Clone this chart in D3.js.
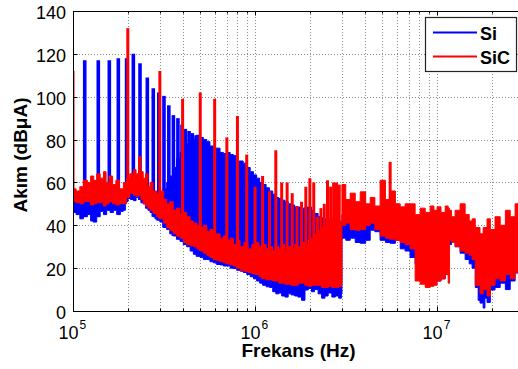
<!DOCTYPE html>
<html>
<head>
<meta charset="utf-8">
<script src="https://cdn.jsdelivr.net/npm/d3@7"></script>
<style>
  html, body { margin: 0; padding: 0; background: #fff; }
  svg { display: block; font-family: "Liberation Sans", Arial, Helvetica, sans-serif; }
</style>
</head>
<body>
<svg id="chart" width="518" height="369"></svg>
<script>
// ---- Conducted emission spectra: Si vs SiC converter ----
// Frequencies in kHz, levels in dBµA.

// Si: broadband noise envelope (low / high edge of the trace)
const siBandKHz = [100,104,109,114,120,125,129,135,141,147,153,160,167,174,182,189,194,200,207,215,222,229,236,243,250,258,265,275,282,288,300,313,327,340,355,370,387,403,421,440,458,475,499,520,543,565,589,615,642,670,699,730,760,793,827,860,900,940,980,1020,1060,1100,1150,1200,1250,1300,1350,1400,1460,1520,1580,1650,1720,1800,1880,1960,2040,2120,2220,2320,2420,2520,2640,2760,2880,2980,3000,3150,3330,3550,3780,4050,4290,4550,4860,5200,5520,5900,6270,6670,7100,7570,8070,8600,9160,10000,10500,11070,11500,12000,12550,13370,14250,15000,15560,16200,16800,17200,17900,18300,18800,19600,20800,22200,23700,25200,26800,28000,30000];
const siBandLow = [46,45,43,44,45,42,41.5,44,46.5,45,47,46,47,45,46.5,47,51,52.5,52,51.5,53,52,50.5,50,48,47,46,44,43,42.4,41.5,39,38,36,35,33.5,32.5,31,30,28,26.5,25.5,25,24,24,23,22.5,21.7,21.5,21,21,20,19.8,19,18.6,18,17,16,15,14,13,12,11.3,11,9,8,8.4,7,6.5,8,7.5,7,6.5,5,9.8,10.5,9,10,8,6,7,8.4,6.5,7,6,8,34,33,34,32,31.6,33,37.7,37,33,32,31.6,33,29,28,25,22,18,16,15,14,15,17,31,33,30,27,24,22,20,11,5,3.7,1.4,6,4,9.8,11,13,10,14,17.7,16,17];
const siBandHigh = [52,53,51,54,52,50,53,52,54,53,55,52,54,53,55,54,56,58,57,58,56,57,56,55,54,55,53,55,54,56,55,57,60,63,67,71,74,76,78,79,80,82,81,80,79,77,76,76,74,73.5,74,73,72.5,70,70,69,67,65,63.5,62,60,59,57.5,56,54.5,53,52.5,51.7,51,50,49.5,48.5,48.5,48,48.5,48.5,47,45.5,44,43.5,43,42.5,42,41,41,40,45,47,46,44,45,46,48,47,46,48,50,46,45,44,42,40,39,38,38,38,38,38,40,40,39,38,37,35,32,27,25,24,25,24,25,26,28,30,30,32,32,33,33];

// Si: switching harmonics rising above the noise
const siSpikeKHz  = [116,137.7,158.3,177.4,197,214.5,233.4,256,276,296,316,336,356,377,397,414,434,452,474];
const siSpikePeak = [117,117,117,118,118,120,115.6,109,104,102,100.4,96,91.4,90,87,85,84,83,82];

// SiC: broadband noise envelope
const sicBandKHz = [100,104,109,114,120,125,130,135,141,147,152,158,165,172,180,189,197,205,215,222,229,236,243,250,258,265,275,288,300,315,327,340,355,370,387,405,421,440,458,480,499,520,543,565,589,615,642,670,699,730,760,790,827,870,915,960,1000,1050,1100,1150,1200,1250,1300,1350,1400,1460,1520,1580,1650,1720,1800,1880,1960,2040,2120,2220,2320,2420,2520,2640,2760,2880,2980,3000,3150,3330,3550,3780,4050,4290,4550,4860,5200,5520,5900,6270,6670,7100,7570,8070,8600,9160,9600,10000,10500,11070,11500,11700,12000,12550,13370,14250,15000,15560,16200,17200,17900,18800,19600,20800,22200,23700,25200,26800,28000,30000];
const sicBandLow = [51,50.5,50,51,51,49.5,50,50.5,50.5,49,50,51,50,49.5,50,50,53,55,54,53.5,54,52,50,49,48,47,45.5,44,43,41,39,37.5,36,35,34,32,31,30.5,30,29,28,27,26,25,24,23.5,23,22.5,22,21.5,21,20,19,18.5,18,17.5,17,16,15,14.5,14.5,14,14,13,13,12.5,12.5,12,12,13,13,12,11.5,12,12,12,11,11,11.5,11,11,11.5,12,40,41,38,37.7,38,40,41,38,35,34,33.5,33,32,31,29,14,12.5,11,11.5,12,14,15,17,13,33,32,30,28,27,26,24,12,8,10,7,12,15,14,17,15,18,17,17];
const sicBandHigh = [57,56,58,61,60,63,61,64,62,65,60,63,59,61,57,60,62,64,66,64,72,65,62,64,58,60,56,55,56,52,50,51,47,48,45,46,44,42,41,40,39,40,37,38,35,36,34,35,33,34,31,33,30,32,29,31,32,30,31,29,30,28,30,29,31,28,30,29,31,30,32,31,33,34,36,37,39,41,40,43,44,42,41,59,52,55,51,55.6,50,53,49,61,52,56,50,48.6,50,50,45,48,46,49,47,48.6,46,49,48,47,44,47,50,45,42,43,39,36,39,43,38,44,40,47,44,50,46,48];

// SiC: switching harmonics
const sicSpikeKHz  = [100,200,300,400,500,600,700,800,900,1000,1100,1200,1300,1400,1500,1600,1700,1800,1900,2000,2100,2200,2300,2400,2500,2600,2700,2800,2900,5520];
const sicSpikePeak = [112,132,112,99,102,99,81,91,73,58,63,56,75,60,60,55,49,51,58,62,60,44,48,50,61,58,60,60,59,69.6];

// Axis tick values
const yTicks = [0,20,40,60,80,100,120,140];
const xDecades = [1e5,1e6,1e7];
const xDecadeExp = ["5","6","7"];

// ---- layout ----
const svg = d3.select("#chart");
const box = { left: 73, top: 11, right: 524, bottom: 311 };

const x = d3.scaleLog().domain([1e5, 3e7]).range([box.left, box.right]);
const y = d3.scaleLinear().domain([0, 140]).range([box.bottom, box.top]);

svg.append("rect").attr("width", 518).attr("height", 369).attr("fill", "#fff");

svg.append("defs").append("clipPath").attr("id", "plotClip")
  .append("rect")
  .attr("x", box.left).attr("y", box.top)
  .attr("width", box.right - box.left).attr("height", box.bottom - box.top);

// minor + major log ticks inside the domain
const xAllTicks = [];
for (const d of [1e5, 1e6, 1e7]) {
  for (let m = 1; m <= 9; m++) {
    const v = d * m;
    if (v >= 1e5 && v <= 3e7) xAllTicks.push(v);
  }
}

// ---- grid (dotted) ----
const grid = svg.append("g").attr("stroke", "#8a8a8a").attr("stroke-width", 1)
  .attr("stroke-dasharray", "1,2").attr("fill", "none");
grid.selectAll("line.gx").data(xAllTicks.filter(v => v > 1e5)).join("line")
  .attr("x1", d => Math.round(x(d)) + 0.5).attr("x2", d => Math.round(x(d)) + 0.5)
  .attr("y1", box.top).attr("y2", box.bottom);
grid.selectAll("line.gy").data(yTicks.filter(v => v > 0 && v < 140)).join("line")
  .attr("x1", box.left).attr("x2", box.right)
  .attr("y1", d => Math.round(y(d)) + 0.5).attr("y2", d => Math.round(y(d)) + 0.5);

// ---- data ----
function rows(fs, lo, hi) {
  return fs.map((f, i) => ({ f: f * 1e3, lo: lo[i], hi: hi[i] }));
}
const siRows = rows(siBandKHz, siBandLow, siBandHigh);
const sicRows = rows(sicBandKHz, sicBandLow, sicBandHigh);

const band = d3.area()
  .x(d => x(d.f)).y0(d => y(d.lo)).y1(d => y(d.hi))
  .curve(d3.curveStepAfter);

const bisect = d3.bisector(d => d.f).right;
function floorAt(rowsArr, f) {
  const i = Math.max(0, bisect(rowsArr, f) - 1);
  return rowsArr[i].lo;
}

const dataG = svg.append("g").attr("clip-path", "url(#plotClip)");

function drawSeries(rowsArr, spikeKHz, spikePeak, color, spikeWidth) {
  dataG.append("path").datum(rowsArr)
    .attr("d", band).attr("fill", color).attr("stroke", color).attr("stroke-width", 1);
  const spikes = spikeKHz.map((f, i) => ({ f: f * 1e3, peak: spikePeak[i] }));
  dataG.append("g").selectAll("line").data(spikes).join("line")
    .attr("x1", d => x(d.f)).attr("x2", d => x(d.f))
    .attr("y1", d => y(floorAt(rowsArr, d.f))).attr("y2", d => y(d.peak))
    .attr("stroke", color).attr("stroke-width", spikeWidth);
}

drawSeries(siRows, siSpikeKHz, siSpikePeak, "#0000ff", 3.6);
drawSeries(sicRows, sicSpikeKHz, sicSpikePeak, "#ff0000", 3);

// ---- axes frame and ticks ----
const frame = svg.append("g").attr("stroke", "#000").attr("fill", "none");
frame.append("rect")
  .attr("x", box.left + 0.5).attr("y", box.top + 0.5)
  .attr("width", box.right - box.left).attr("height", box.bottom - box.top)
  .attr("stroke-width", 1);

frame.selectAll("line.ty").data(yTicks).join("line")
  .attr("x1", box.left).attr("x2", box.left + 4.5)
  .attr("y1", d => Math.round(y(d)) + 0.5).attr("y2", d => Math.round(y(d)) + 0.5);

frame.selectAll("line.tx").data(xAllTicks).join("line")
  .attr("x1", d => Math.round(x(d)) + 0.5).attr("x2", d => Math.round(x(d)) + 0.5)
  .attr("y1", box.bottom).attr("y2", d => box.bottom - (xDecades.includes(d) ? 4.5 : 2.5));
frame.selectAll("line.txt").data(xAllTicks).join("line")
  .attr("x1", d => Math.round(x(d)) + 0.5).attr("x2", d => Math.round(x(d)) + 0.5)
  .attr("y1", box.top).attr("y2", d => box.top + (xDecades.includes(d) ? 4.5 : 2.5));

// y tick labels
svg.append("g").selectAll("text").data(yTicks).join("text")
  .attr("x", 66).attr("y", d => y(d) + 8)
  .attr("text-anchor", "end").attr("font-size", 18).attr("fill", "#000")
  .text(d => d);

// x tick labels: 10^n
const xl = svg.append("g").attr("fill", "#000");
xDecades.forEach((d, i) => {
  const px = x(d);
  xl.append("text").attr("x", px + 5.5).attr("y", 339)
    .attr("text-anchor", "end").attr("font-size", 18).text("10");
  xl.append("text").attr("x", px + 6.5).attr("y", 329)
    .attr("font-size", 12).text(xDecadeExp[i]);
});

// axis titles
svg.append("text")
  .attr("x", (box.left + box.right) / 2).attr("y", 357)
  .attr("text-anchor", "middle").attr("font-size", 19).attr("font-weight", "bold")
  .text("Frekans (Hz)");
svg.append("text")
  .attr("transform", "translate(27,155) rotate(-90)")
  .attr("text-anchor", "middle").attr("font-size", 19).attr("font-weight", "bold")
  .text("Akım (dBμA)");

// ---- legend ----
const legendNames = ["Si", "SiC"];
const legendColors = ["#0000ff", "#ff0000"];
const lg = svg.append("g");
lg.append("rect").attr("x", 425.5).attr("y", 17.5).attr("width", 91).attr("height", 54)
  .attr("fill", "#fff").attr("stroke", "#222").attr("stroke-width", 1.2);
legendNames.forEach((n, i) => {
  const cy = 32.5 + i * 24;
  lg.append("line").attr("x1", 433).attr("x2", 477).attr("y1", cy).attr("y2", cy)
    .attr("stroke", legendColors[i]).attr("stroke-width", 2);
  lg.append("text").attr("x", 480).attr("y", cy + 7)
    .attr("font-size", 18).attr("font-weight", "bold").attr("fill", "#000").text(n);
});
</script>
</body>
</html>
